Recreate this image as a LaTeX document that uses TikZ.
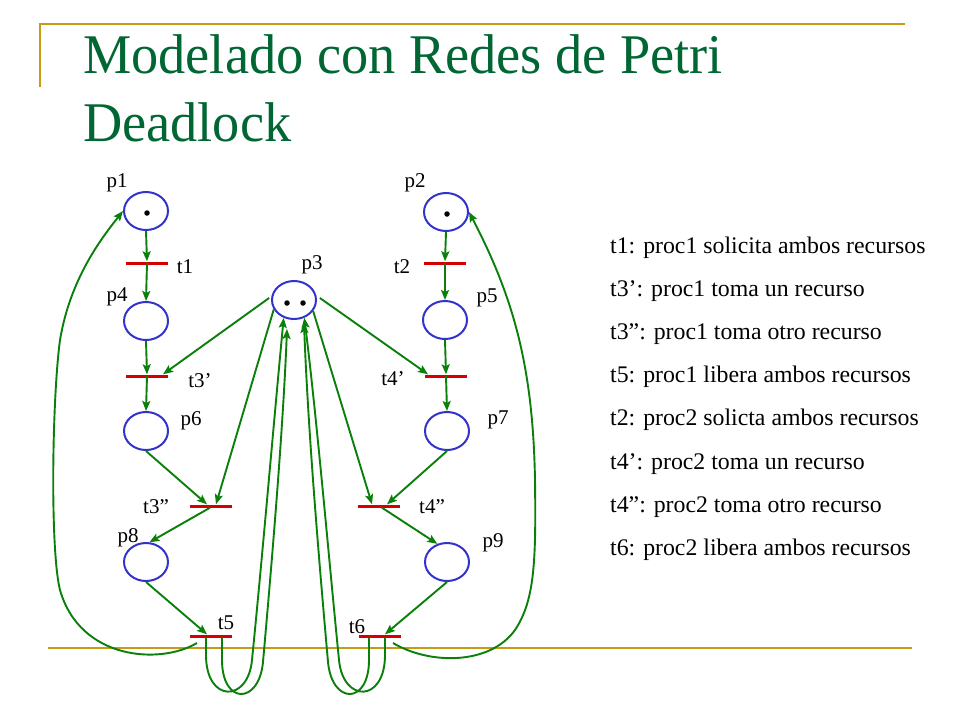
\documentclass[tikz,border=0pt]{standalone}
\usepackage{fontspec}
\setmainfont{Liberation Serif}
\usetikzlibrary{arrows.meta,shapes.geometric}
\definecolor{arcgreen}{RGB}{10,128,10}
\definecolor{placeblue}{RGB}{51,51,204}
\definecolor{barred}{RGB}{215,0,0}
\definecolor{goldline}{RGB}{200,155,20}
\definecolor{titlegreen}{RGB}{0,102,51}
\begin{document}
\begin{tikzpicture}[x=1pt,y=-1pt,
  place/.style={ellipse,draw=placeblue,line width=2pt,minimum width=44pt,minimum height=38pt,inner sep=0pt},
  trans/.style={rectangle,fill=barred,minimum width=42pt,minimum height=3pt,inner sep=0pt},
  flow/.style={draw=arcgreen,line width=1.9pt,-{Stealth[length=10pt,width=8pt,inset=2pt]}},
  lbl/.style={font=\fontsize{21}{24}\selectfont,inner sep=0pt},
  desc/.style={font=\fontsize{23.8}{28}\selectfont,anchor=base west,inner sep=0pt},
  token/.style={circle,fill=black,minimum size=5.5pt,inner sep=0pt},
  ttl/.style={font=\fontsize{56}{60}\selectfont,text=titlegreen,anchor=base west,inner sep=0pt}]
\fill[white] (0,0) rectangle (960,720);
\path[use as bounding box] (0,0) rectangle (960,720);

% frame lines
\draw[goldline,line width=2pt] (40,24) -- (905,24);
\draw[goldline,line width=2pt] (40,23) -- (40,87);
\draw[goldline,line width=2pt] (48,648) -- (912,648);

% title
\node[ttl] (title1) at (83,73) {\scalebox{0.97}[1]{Modelado con Redes de Petri}};
\node[ttl] (title2) at (83,141) {\scalebox{0.97}[1]{Deadlock}};

% places
\node[place] (p1) at (146,211) {};
\node[place] (p2) at (446,212) {};
\node[place] (p3) at (294,300) {};
\node[place] (p4) at (146,321) {};
\node[place] (p5) at (445,320) {};
\node[place] (p6) at (146,431) {};
\node[place] (p7) at (447,431) {};
\node[place] (p8) at (146,562) {};
\node[place] (p9) at (447,562) {};

% tokens
\node[token] (k1) at (147,213) {};
\node[token] (k2) at (447,214) {};
\node[token] (k3) at (287,303) {};
\node[token] (k4) at (303,303) {};

% transitions
\node[trans] (t1) at (147,263) {};
\node[trans] (t2) at (445,263) {};
\node[trans] (t3a) at (147,376) {};
\node[trans] (t4a) at (446,376) {};
\node[trans] (t3b) at (211,506) {};
\node[trans] (t4b) at (379,506) {};
\node[trans] (t5) at (211,636) {};
\node[trans] (t6) at (380,636) {};

% labels
\node[lbl] (lp1) at (117,183) {p1};
\node[lbl] (lt1) at (185,267) {t1};
\node[lbl] (lp4) at (117,297) {p4};
\node[lbl] (lp3) at (312,265) {p3};
\node[lbl] (lp2) at (415,183) {p2};
\node[lbl] (lt2) at (402,267) {t2};
\node[lbl] (lp5) at (487,298) {p5};
\node[lbl] (lt3a) at (200,381) {t3’};
\node[lbl] (lt4a) at (393,379) {t4’};
\node[lbl] (lp6) at (191,421) {p6};
\node[lbl] (lp7) at (498,420) {p7};
\node[lbl] (lt3b) at (156,507) {t3”};
\node[lbl] (lt4b) at (432,507) {t4”};
\node[lbl] (lp8) at (128,538) {p8};
\node[lbl] (lp9) at (493,543) {p9};
\node[lbl] (lt5) at (226,623) {t5};
\node[lbl] (lt6) at (357,627) {t6};

% descriptions
\node[desc] (d1) at (610,253) {t1: proc1 solicita ambos recursos};
\node[desc] (d2) at (610,296.2) {t3’: proc1 toma un recurso};
\node[desc] (d3) at (610,339.4) {t3”: proc1 toma otro recurso};
\node[desc] (d4) at (610,382.6) {t5: proc1 libera ambos recursos};
\node[desc] (d5) at (610,425.8) {t2: proc2 solicta ambos recursos};
\node[desc] (d6) at (610,469) {t4’: proc2 toma un recurso};
\node[desc] (d7) at (610,512.2) {t4”: proc2 toma otro recurso};
\node[desc] (d8) at (610,555.4) {t6: proc2 libera ambos recursos};

% process 1 chain
\draw[flow] (p1.south) -- (t1.north);
\draw[flow] (t1.center) -- (p4.north);
\draw[flow] (p4.south) -- (t3a.north);
\draw[flow] (t3a.center) -- (p6.north);
\draw[flow] (p6.south) -- ([xshift=-4pt]t3b.north);
\draw[flow] ([xshift=-1pt]t3b.south) -- (p8.80);
\draw[flow] (p8.south) -- ([xshift=-4pt]t5.north);

% process 2 chain
\draw[flow] (p2.south) -- (t2.north);
\draw[flow] (t2.center) -- (p5.north);
\draw[flow] (p5.south) -- (t4a.north);
\draw[flow] (t4a.center) -- (p7.north);
\draw[flow] (p7.south) -- ([xshift=8pt]t4b.north);
\draw[flow] ([xshift=3pt]t4b.south) -- (p9.118);
\draw[flow] (p9.south) -- ([xshift=5pt]t6.north);

% resource place p3
\draw[flow] ([xshift=-2pt]p3.175) -- ([xshift=16pt]t3a.north);
\draw[flow] ([xshift=3pt]p3.5) -- ([xshift=-18pt]t4a.north);
\draw[flow] (p3.205) -- ([xshift=5pt]t3b.north);
\draw[flow] (p3.330) -- ([xshift=-7pt]t4b.north);

% returns from t5 to p3
\draw[flow] ([xshift=-5pt]t5.south) -- (206,655) .. controls (206,703) and (248,703) .. (252,660) .. controls (262,560) and (274,420) .. (p3.240);
\draw[flow] ([xshift=11pt]t5.south) -- (222,660) .. controls (222,705) and (259,705) .. (263,662) .. controls (272,560) and (283,430) .. (287,329);
% returns from t6 to p3
\draw[flow] ([xshift=5pt]t6.south) -- (385,655) .. controls (385,703) and (343,703) .. (339,660) .. controls (329,560) and (317,420) .. (p3.300);
\draw[flow] ([xshift=-11pt]t6.south) -- (369,660) .. controls (369,705) and (332,705) .. (328,662) .. controls (319,560) and (308,430) .. (304,323);

% return from t5 to p1
\draw[flow] (197,643) .. controls (160,665) and (80,660) .. (60,590) .. controls (50,550) and (52,400) .. (60,340) .. controls (70,280) and (100,240) .. (p1.west);
% return from t6 to p2
\draw[flow] (393,643) .. controls (430,665) and (490,665) .. (515,630) .. controls (535,600) and (536,560) .. (535,480) .. controls (533,370) and (515,300) .. (p2.east);
\end{tikzpicture}
\end{document}
